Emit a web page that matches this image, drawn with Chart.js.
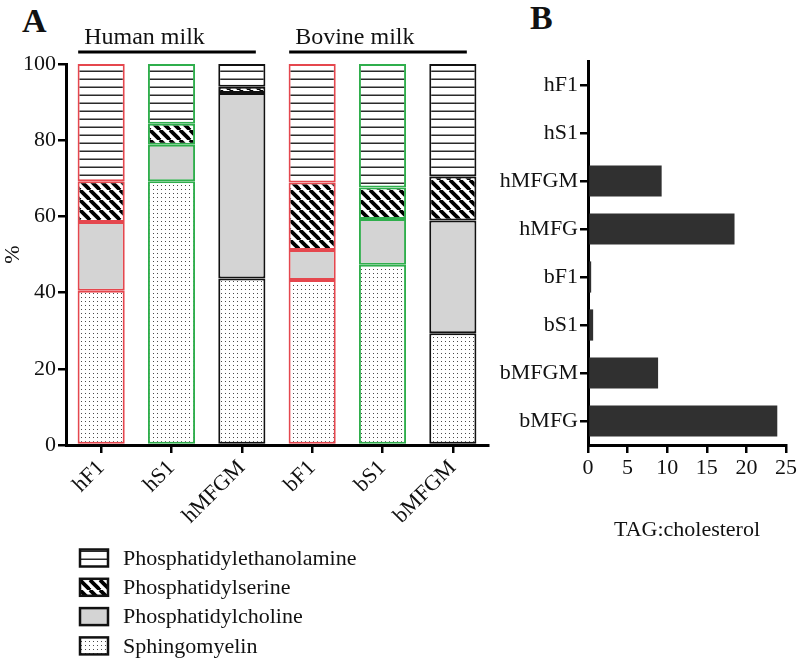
<!DOCTYPE html>
<html>
<head>
<meta charset="utf-8">
<script src="https://cdn.jsdelivr.net/npm/chart.js@4.4.1/dist/chart.umd.min.js"></script>
<style>
  body { margin: 0; background: #fff; }
  #wrap { position: relative; width: 800px; height: 664px; font-family: 'Liberation Serif', 'Times New Roman', serif; }
  #chartA { position: absolute; left: 0; top: 0; }
  #chartB { position: absolute; left: 490px; top: 0; }
  .tag { position: absolute; font-weight: bold; font-size: 34px; line-height: 1; color: #111; }
</style>
</head>
<body>
<div id="wrap">
  <div class="tag" style="left:22px;top:4px">A</div>
  <div class="tag" style="left:530px;top:1px">B</div>
  <canvas id="chartA" width="495" height="664"></canvas>
  <canvas id="chartB" width="310" height="550"></canvas>
</div>
<script>
// panel A - phospholipid composition (%)
var categoriesA = ['hF1', 'hS1', 'hMFGM', 'bF1', 'bS1', 'bMFGM'];
var sphingomyelin = [40.5, 69.2, 43.7, 43.3, 47.3, 29.3];
var phosphatidylcholine = [18.0, 9.6, 48.7, 7.9, 12.0, 29.6];
var phosphatidylserine = [10.7, 5.5, 1.6, 17.7, 8.3, 11.6];
var phosphatidylethanolamine = [30.8, 15.7, 6.0, 31.1, 32.4, 29.5];
var yTicksA = [0, 20, 40, 60, 80, 100];
var groupNames = ['Human milk', 'Bovine milk'];
var groupFirst = [0, 3];
var groupLast = [2, 5];

// panel B - TAG:cholesterol
var categoriesB = ['hF1', 'hS1', 'hMFGM', 'hMFG', 'bF1', 'bS1', 'bMFGM', 'bMFG'];
var tagCholesterol = [0, 0, 9.3, 18.5, 0.4, 0.65, 8.85, 23.9];
var xTicksB = [0, 5, 10, 15, 20, 25];

var FONT = "'Liberation Serif', 'Times New Roman', serif";
var INK = '#111';
var edgeColors = ['#e5474e', '#2fae4c', '#111', '#e5474e', '#2fae4c', '#111'];

function tile(w, h, draw) {
  var c = document.createElement('canvas');
  c.width = w; c.height = h;
  var g = c.getContext('2d');
  g.fillStyle = '#fff';
  g.fillRect(0, 0, w, h);
  draw(g, w, h);
  return document.createElement('canvas').getContext('2d').createPattern(c, 'repeat');
}

var hLines = tile(8, 8, function(g, w) {
  g.fillStyle = '#2a2a2a';
  g.fillRect(0, 6.5, w, 1.5);
});
var stripes = tile(10, 10, function(g, w, h) {
  g.strokeStyle = '#000';
  g.lineWidth = 3.8;
  [-w, 0, w].forEach(function(x0) {
    g.beginPath(); g.moveTo(x0, 0); g.lineTo(x0 + w, h); g.stroke();
  });
});
var dots = tile(4, 4, function(g) {
  g.fillStyle = '#4a4a4a';
  g.fillRect(1, 1, 1, 1);
});

function seg(label, data, fill) {
  return {
    label: label,
    data: data,
    backgroundColor: fill,
    borderColor: edgeColors,
    borderWidth: 2,
    borderSkipped: false,
    barPercentage: 0.67,
    categoryPercentage: 1
  };
}

var panelAExtras = {
  id: 'panelAExtras',
  afterDraw: function(chart) {
    var ctx = chart.ctx, x = chart.scales.x;
    ctx.save();
    // group labels with bars over them
    ctx.font = '24px ' + FONT;
    ctx.fillStyle = INK;
    ctx.strokeStyle = '#000';
    ctx.lineWidth = 3;
    ctx.textBaseline = 'alphabetic';
    groupNames.forEach(function(name, i) {
      var a = x.getPixelForValue(groupFirst[i]) - 23;
      var b = x.getPixelForValue(groupLast[i]) + 14;
      ctx.beginPath(); ctx.moveTo(a, 52); ctx.lineTo(b, 52); ctx.stroke();
      ctx.fillText(name, a + 6, 44);
    });
    // legend, top stack segment first
    ctx.font = '22px ' + FONT;
    ctx.textBaseline = 'middle';
    chart.data.datasets.slice().reverse().forEach(function(ds, i) {
      var y = 558 + i * 29.3;
      ctx.fillStyle = ds.backgroundColor;
      ctx.fillRect(80, y - 8.5, 28, 17);
      ctx.strokeStyle = INK;
      ctx.lineWidth = 2.5;
      ctx.strokeRect(80, y - 8.5, 28, 17);
      ctx.fillStyle = INK;
      ctx.fillText(ds.label, 123, y + 1);
    });
    ctx.restore();
  }
};

var ctxA = document.getElementById('chartA').getContext('2d');
new Chart(ctxA, {
  type: 'bar',
  data: {
    labels: categoriesA,
    datasets: [
      seg('Sphingomyelin', sphingomyelin, dots),
      seg('Phosphatidylcholine', phosphatidylcholine, '#d4d4d4'),
      seg('Phosphatidylserine', phosphatidylserine, stripes),
      seg('Phosphatidylethanolamine', phosphatidylethanolamine, hLines)
    ]
  },
  options: {
    responsive: false,
    animation: false,
    layout: { padding: { top: 64, right: 7, left: 0, bottom: 0 } },
    plugins: { legend: { display: false }, tooltip: { enabled: false } },
    scales: {
      x: {
        stacked: true,
        afterFit: function(s) { s.height = 219; },
        border: { display: true, color: '#000', width: 3 },
        grid: { offset: false, drawOnChartArea: false, drawTicks: true, tickLength: 8, color: '#000', lineWidth: 2.5 },
        ticks: { color: INK, font: { family: FONT, size: 22 }, minRotation: 45, maxRotation: 45, autoSkip: false, padding: 2 }
      },
      y: {
        stacked: true,
        min: yTicksA[0],
        max: yTicksA[yTicksA.length - 1],
        afterFit: function(s) { s.width = 66; },
        afterBuildTicks: function(s) { s.ticks = yTicksA.map(function(v) { return { value: v }; }); },
        border: { display: true, color: '#000', width: 3 },
        grid: { drawOnChartArea: false, drawTicks: true, tickLength: 8, color: '#000', lineWidth: 2.5 },
        ticks: { color: INK, font: { family: FONT, size: 22 }, padding: 2 },
        title: { display: true, text: '%', color: INK, font: { family: FONT, size: 22 }, padding: 0 }
      }
    }
  },
  plugins: [panelAExtras]
});

var ctxB = document.getElementById('chartB').getContext('2d');
new Chart(ctxB, {
  type: 'bar',
  data: {
    labels: categoriesB,
    datasets: [{
      label: 'TAG:cholesterol',
      data: tagCholesterol,
      backgroundColor: '#303030',
      borderWidth: 0,
      barPercentage: 0.65,
      categoryPercentage: 1
    }]
  },
  options: {
    indexAxis: 'y',
    responsive: false,
    animation: false,
    layout: { padding: { top: 61, right: 14, left: 0, bottom: 0 } },
    plugins: { legend: { display: false }, tooltip: { enabled: false } },
    scales: {
      x: {
        min: xTicksB[0],
        max: xTicksB[xTicksB.length - 1],
        afterFit: function(s) { s.height = 105; },
        afterBuildTicks: function(s) { s.ticks = xTicksB.map(function(v) { return { value: v }; }); },
        border: { display: true, color: '#000', width: 3 },
        grid: { drawOnChartArea: false, drawTicks: true, tickLength: 8, color: '#000', lineWidth: 2.5 },
        ticks: { color: INK, font: { family: FONT, size: 22 }, padding: 2, maxRotation: 0 },
        title: { display: true, text: 'TAG:cholesterol', color: INK, font: { family: FONT, size: 22 }, padding: { top: 0, bottom: 7 } }
      },
      y: {
        afterFit: function(s) { s.width = 98; },
        border: { display: true, color: '#000', width: 3 },
        grid: { offset: false, drawOnChartArea: false, drawTicks: true, tickLength: 8, color: '#000', lineWidth: 2.5 },
        ticks: { color: INK, font: { family: FONT, size: 22 }, padding: 2, autoSkip: false }
      }
    }
  }
});
</script>
</body>
</html>
